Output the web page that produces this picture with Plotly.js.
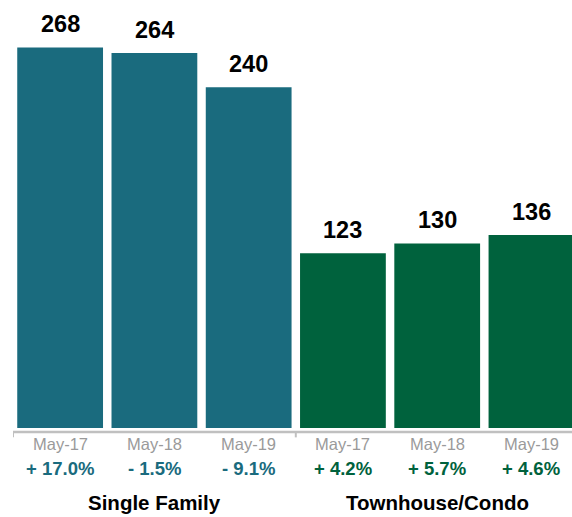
<!DOCTYPE html>
<html><head><meta charset="utf-8">
<script src="https://cdn.plot.ly/plotly-3.0.1.min.js"></script>
<style>html,body{margin:0;padding:0;background:#fff;}#chart{width:572px;height:517px;}</style>
</head><body><div id="chart"></div>
<script>
const months = ["May-17","May-18","May-19","May-17","May-18","May-19"];
const values = [268,264,240,123,130,136];
const changes = ["+ 17.0%","- 1.5%","- 9.1%","+ 4.2%","+ 5.7%","+ 4.6%"];
const groups = ["Single Family","Townhouse/Condo"];
const groupOf = [0,0,0,1,1,1];
const groupColors = ["#1a6b7e","#00623d"];

const xs = values.map((v,i)=>i);
const font = "Liberation Sans, Arial, Helvetica, sans-serif";

const trace = {
  type:"bar", x:xs, y:values,
  marker:{color:groupOf.map(g=>groupColors[g])},
  width:0.91, hoverinfo:"none"
};

const ann = [];
values.forEach((v,i)=>{
  ann.push({x:i,y:v,xref:"x",yref:"y",text:"<b>"+v+"</b>",showarrow:false,
    yanchor:"bottom",yshift:8,font:{family:font,size:23.5,color:"#000"}});
  ann.push({x:i,y:-0.038,xref:"x",yref:"paper",text:months[i],showarrow:false,
    yanchor:"middle",font:{family:font,size:16.5,color:"#9a9a9a"}});
  ann.push({x:i,y:-0.095,xref:"x",yref:"paper",text:"<b>"+changes[i]+"</b>",showarrow:false,
    yanchor:"middle",font:{family:font,size:18.5,color:groupColors[groupOf[i]]}});
});
groups.forEach((g,k)=>{
  ann.push({x:k*3+1,y:-0.176,xref:"x",yref:"paper",text:"<b>"+g+"</b>",showarrow:false,
    yanchor:"middle",font:{family:font,size:20.5,color:"#000"}});
});

const lineY = -0.0095, tickY = -0.022;
const shapes = [
  {type:"line",xref:"x",yref:"paper",x0:-0.5,x1:5.5,y0:lineY,y1:lineY,line:{color:"#c0c0c0",width:2.5}},
  {type:"line",xref:"x",yref:"paper",x0:-0.5,x1:-0.5,y0:lineY,y1:tickY,line:{color:"#c0c0c0",width:2}},
  {type:"line",xref:"x",yref:"paper",x0:2.5,x1:2.5,y0:lineY,y1:tickY,line:{color:"#c0c0c0",width:2}},
  {type:"line",xref:"x",yref:"paper",x0:5.5,x1:5.5,y0:lineY,y1:tickY,line:{color:"#c0c0c0",width:2}}
];

const layout = {
  width:572,height:517,
  margin:{l:13,r:0,t:2,b:89,pad:0},
  paper_bgcolor:"#fff",plot_bgcolor:"#fff",
  showlegend:false,
  xaxis:{range:[-0.5,5.43],showgrid:false,zeroline:false,showticklabels:false,ticks:"",showline:false},
  yaxis:{range:[0,300],showgrid:false,zeroline:false,showticklabels:false,ticks:"",showline:false},
  annotations:ann,
  shapes:shapes
};
Plotly.newPlot("chart",[trace],layout,{staticPlot:true,displayModeBar:false});
</script></body></html>
